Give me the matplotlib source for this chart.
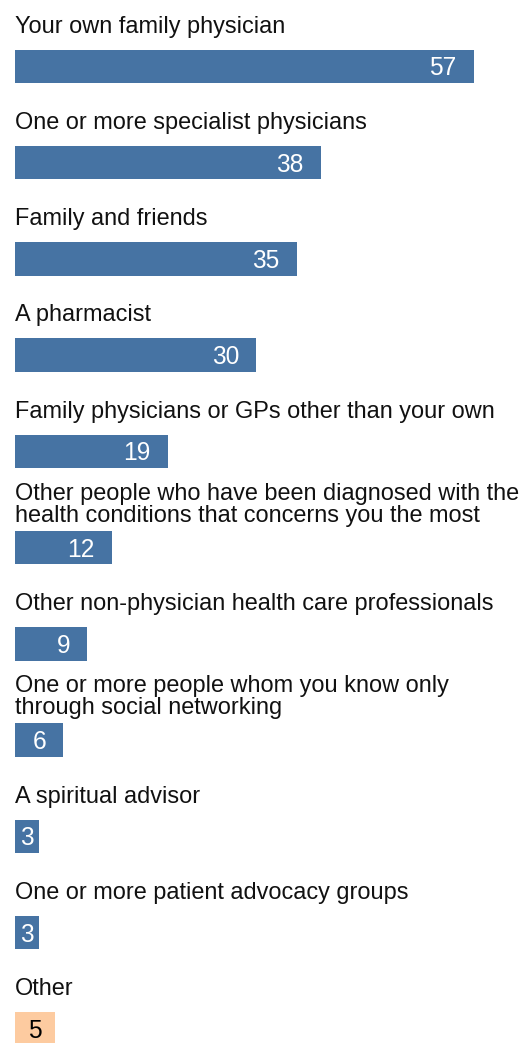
import matplotlib
matplotlib.use("Agg")
import matplotlib.pyplot as plt

# survey answers, top to bottom
sources = [
    "Your own family physician",
    "One or more specialist physicians",
    "Family and friends",
    "A pharmacist",
    "Family physicians or GPs other than your own",
    "Other people who have been diagnosed with the\nhealth conditions that concerns you the most",
    "Other non-physician health care professionals",
    "One or more people whom you know only\nthrough social networking",
    "A spiritual advisor",
    "One or more patient advocacy groups",
    "Other",
]
percent = [57, 38, 35, 30, 19, 12, 9, 6, 3, 3, 5]
bar_colors = ["#4673a3"] * 10 + ["#fdcba0"]
value_colors = ["white"] * 10 + ["black"]

plt.rcParams["font.family"] = ["Liberation Sans", "DejaVu Sans"]

W, H, DPI = 522, 1043, 72
fig = plt.figure(figsize=(W / DPI, H / DPI), dpi=DPI)
ax = fig.add_axes([0, 0, 1, 1])

px_per_unit = 8.044
row_px = 96.27
bar_h = 33.5 / row_px
ax.set_xlim(-15 / px_per_unit, (W - 15) / px_per_unit)
ax.set_ylim((H - 66.3) / row_px, -66.3 / row_px)
ax.axis("off")

rows = list(range(len(sources)))
ax.barh(rows, percent, height=bar_h, color=bar_colors, left=0)

label_size = 23.5
value_size = 24.5

for i, (name, val) in enumerate(zip(sources, percent)):
    lines = name.split("\n")
    # single labels sit a bit higher than wrapped ones
    base = 17 if len(lines) == 1 else 9
    for k, line in enumerate(reversed(lines)):
        ax.annotate(line, xy=(0, i - bar_h / 2), xytext=(0, base + 22 * k),
                    textcoords="offset points", ha="left", va="baseline",
                    fontsize=label_size, color="#111111")

    txt = str(val)
    bar_px = val * px_per_unit
    txt_px = 0.556 * value_size * len(txt)
    inset = min(17, (bar_px - txt_px) / 2)
    ax.annotate(txt, xy=(val, i), xytext=(-inset, -9),
                textcoords="offset points", ha="right", va="baseline",
                fontsize=value_size, color=value_colors[i])

fig.savefig("out.png", dpi=DPI)
